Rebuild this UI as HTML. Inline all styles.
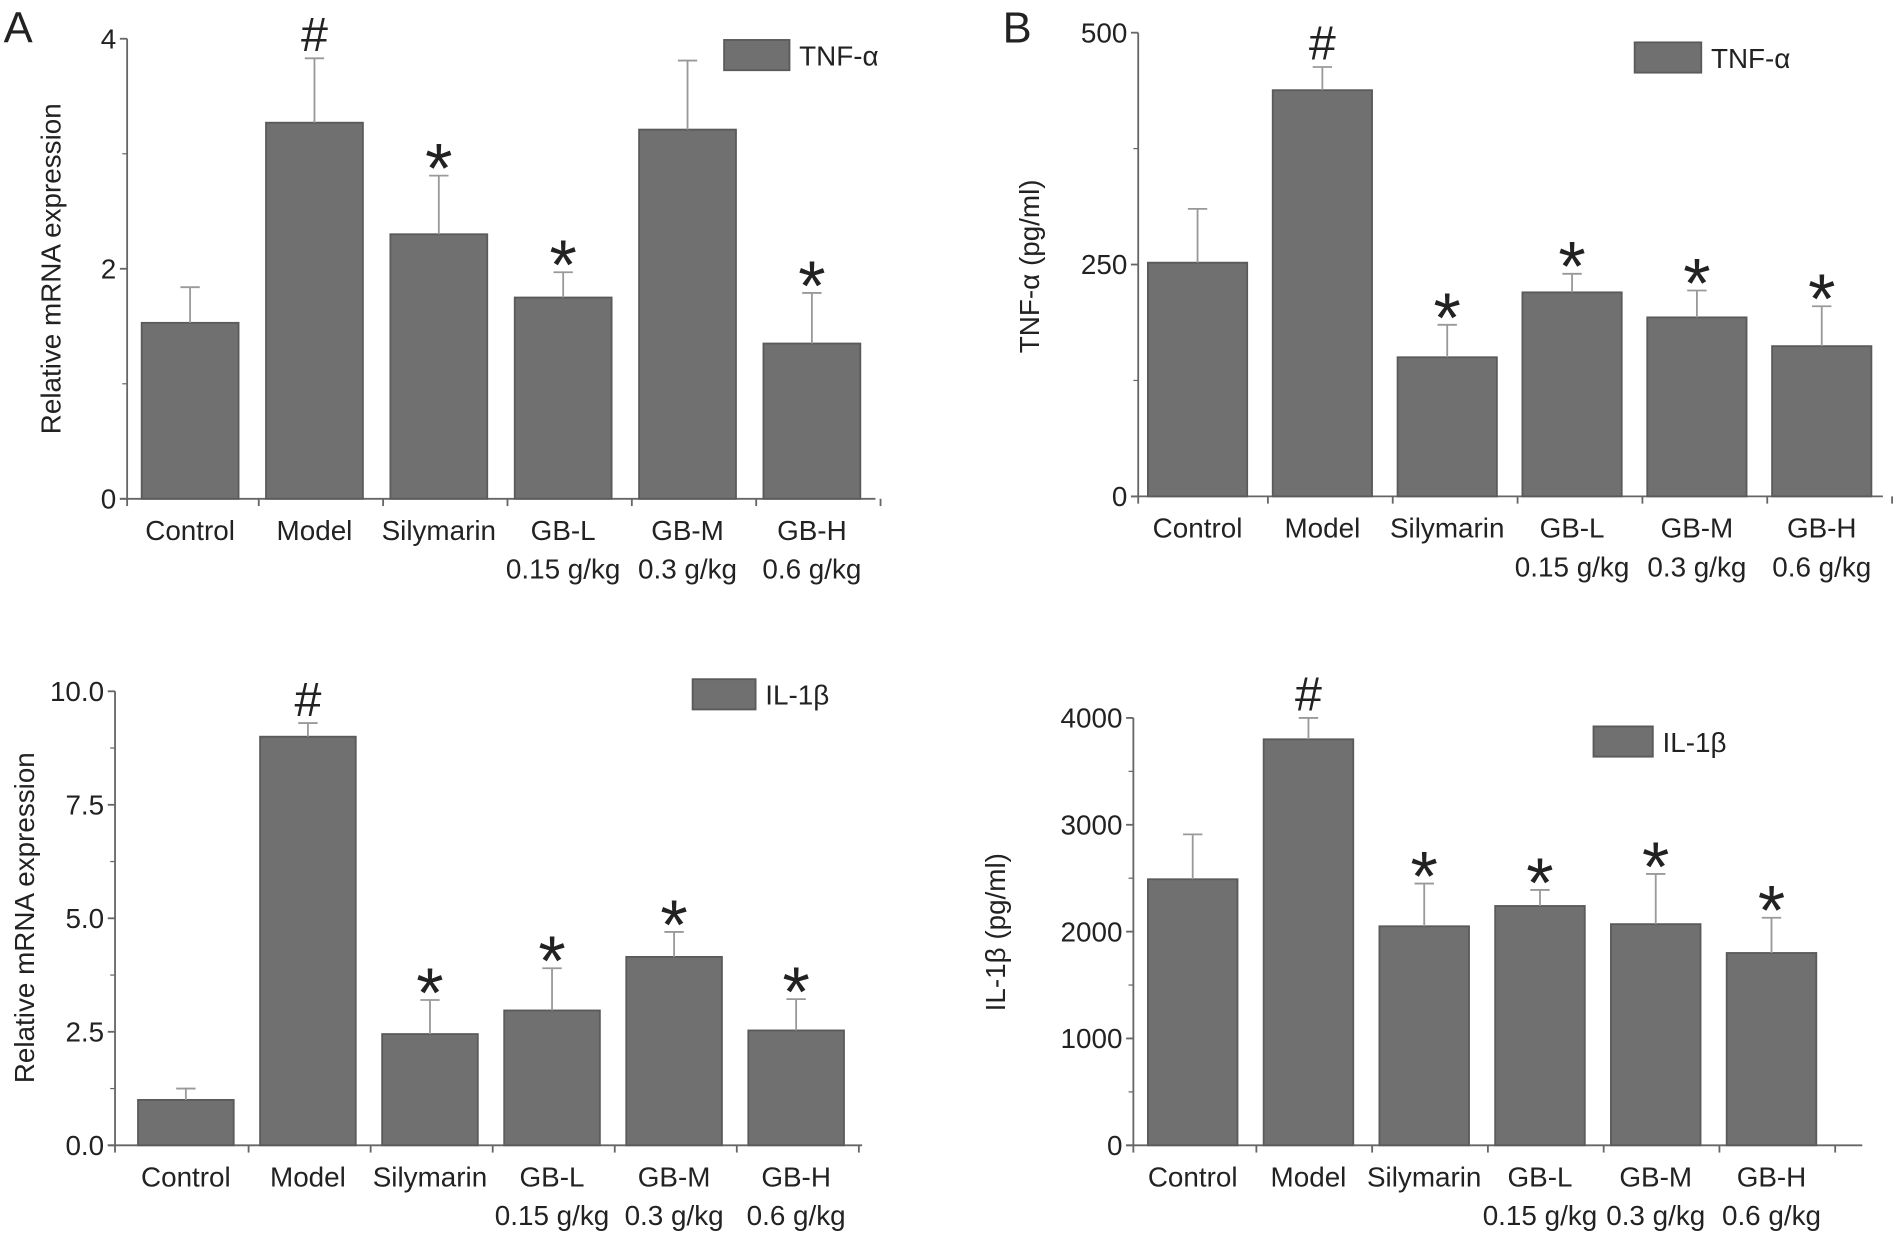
<!DOCTYPE html>
<html><head><meta charset="utf-8"><style>
html,body{margin:0;padding:0;background:#fff;}
svg{display:block;}
text{font-family:"Liberation Sans",sans-serif;fill:#222;}
</style></head><body>
<svg id="fig" width="1895" height="1247" viewBox="0 0 1565 1030" preserveAspectRatio="none" xmlns="http://www.w3.org/2000/svg">
<text x="3" y="35" font-size="36">A</text>
<text x="828" y="35" font-size="36">B</text>
</svg>
<script>
const categories = ["Control","Model","Silymarin","GB-L","GB-M","GB-H"];
const doses = ["","","","0.15 g/kg","0.3 g/kg","0.6 g/kg"];
const tnfMrnaValues = [1.53,3.27,2.30,1.75,3.21,1.35];
const tnfMrnaErrors = [0.31,0.56,0.51,0.22,0.60,0.44];
const tnfMrnaMarks = ["","#","*","*","","*"];
const tnfProtValues = [252,438,150,220,193,162];
const tnfProtErrors = [58,25,35,20,29,43];
const tnfProtMarks = ["","#","*","*","*","*"];
const ilMrnaValues = [1.0,9.0,2.45,2.97,4.15,2.53];
const ilMrnaErrors = [0.25,0.3,0.75,0.93,0.55,0.69];
const ilMrnaMarks = ["","#","*","*","*","*"];
const ilProtValues = [2490,3800,2050,2240,2070,1800];
const ilProtErrors = [420,200,400,150,470,330];
const ilProtMarks = ["","#","*","*","*","*"];
const tnfMrnaTicks = [0,2,4];
const tnfProtTicks = [0,250,500];
const ilMrnaTicks = [0,2.5,5,7.5,10];
const ilProtTicks = [0,1000,2000,3000,4000];
const ilMrnaTickLabels = ["0.0","2.5","5.0","7.5","10.0"];

const svg = document.getElementById('fig');
const NS = 'http://www.w3.org/2000/svg';
function mk(tag, attrs, txt){
  const e = document.createElementNS(NS, tag);
  for (const k in attrs) e.setAttribute(k, attrs[k]);
  if (txt !== undefined) e.textContent = txt;
  svg.appendChild(e);
  return e;
}
function panel(p){
  const y = v => p.y0 - v / p.max * (p.y0 - p.yTop);
  const x = i => p.x0 + p.gap + i * p.cw;
  let e = mk('line',{x1:p.x0,y1:p.y0,x2:p.x0,y2:p.yTop,stroke:'#666','stroke-width':1.5});
  
  
  e = mk('line',{x1:p.x0-6,y1:p.y0,x2:p.xEnd,y2:p.y0,stroke:'#666','stroke-width':1.5});
  
  
  p.ticks.forEach((t,i) => {
    const ty = y(t);
    let l = mk('line',{x1:p.x0-6,y1:ty,x2:p.x0,y2:ty,stroke:'#666','stroke-width':1.5});
    
    
    let tx = mk('text',{x:p.x0-9,y:ty+8,'font-size':23,'text-anchor':'end'}, p.labels ? p.labels[i] : String(t));
    
    
    if (i < p.ticks.length - 1) {
      const my = y((t + p.ticks[i+1]) / 2);
      let m = mk('line',{x1:p.x0-4,y1:my,x2:p.x0,y2:my,stroke:'#666','stroke-width':1});
      
      
    }
  });
  for (let i = 0; i <= 6; i++) {
    const bx = i === 0 ? p.x0 : p.x0 + p.gap/2 + i * p.cw;
    let l = mk('line',{x1:bx,y1:p.y0,x2:bx,y2:p.y0+6,stroke:'#666','stroke-width':1.5});
    
    
  }
  p.values.forEach((v,i) => {
    const bx = x(i), top = y(v), cx = bx + p.bw/2;
    let r = mk('rect',{x:bx,y:top,width:p.bw,height:p.y0-top,fill:'#707070',stroke:'#5a5a5a','stroke-width':1.5});
    
    
    const et = y(v + p.errors[i]);
    let el = mk('line',{x1:cx,y1:top,x2:cx,y2:et,stroke:'#999','stroke-width':1.5});
    
    
    let ec = mk('line',{x1:cx-8,y1:et,x2:cx+8,y2:et,stroke:'#999','stroke-width':1.5});
    
    
    const mark = p.marks[i];
    if (mark) {
      let m = mk('text',{x:cx,y: mark==='#' ? et-6 : et+14,'font-size': mark==='#' ? 40 : 58,'text-anchor':'middle',fill:'#333'}, mark);
      
      
    }
    let c = mk('text',{x:cx,y:p.y0+34,'font-size':23,'text-anchor':'middle'}, categories[i]);
    
    
    if (doses[i]) {
      let d = mk('text',{x:cx,y:p.y0+66,'font-size':23,'text-anchor':'middle'}, doses[i]);
      
      
    }
  });
  let lr = mk('rect',{x:p.legX,y:p.legY,width:p.legW,height:25,fill:'#707070',stroke:'#5a5a5a','stroke-width':1.5});
  
  
  let lt = mk('text',{x:p.legX+p.legW+8,y:p.legY+21,'font-size':23}, p.legend);
  
  
  let yt = mk('text',{x:0,y:0,'font-size':23,'text-anchor':'middle',transform:`translate(${p.ylX},${p.ylY}) rotate(-90)`}, p.ylabel);
  
  
}
panel({id:'tnf-mrna',x0:105,y0:412,yTop:32,max:4,xEnd:723,ticks:tnfMrnaTicks,cw:102.7,gap:12,bw:80,values:tnfMrnaValues,errors:tnfMrnaErrors,marks:tnfMrnaMarks,legX:598,legY:33,legW:54,legend:'TNF-α',ylabel:'Relative mRNA expression',ylX:50,ylY:222});
panel({id:'tnf-protein',x0:940,y0:410,yTop:27,max:500,xEnd:1555,ticks:tnfProtTicks,cw:103.1,gap:8,bw:82,values:tnfProtValues,errors:tnfProtErrors,marks:tnfProtMarks,legX:1350,legY:35,legW:55,legend:'TNF-α',ylabel:'TNF-α (pg/ml)',ylX:858,ylY:220});
panel({id:'il1b-mrna',x0:95,y0:946,yTop:571,max:10,xEnd:712,ticks:ilMrnaTicks,labels:ilMrnaTickLabels,cw:100.8,gap:19,bw:79,values:ilMrnaValues,errors:ilMrnaErrors,marks:ilMrnaMarks,legX:572,legY:561,legW:52,legend:'IL-1β',ylabel:'Relative mRNA expression',ylX:28,ylY:758});
panel({id:'il1b-protein',x0:936,y0:946,yTop:593,max:4000,xEnd:1538,ticks:ilProtTicks,cw:95.6,gap:12,bw:74,values:ilProtValues,errors:ilProtErrors,marks:ilProtMarks,legX:1316,legY:600,legW:49,legend:'IL-1β',ylabel:'IL-1β (pg/ml)',ylX:830,ylY:770});
</script>
</body></html>
